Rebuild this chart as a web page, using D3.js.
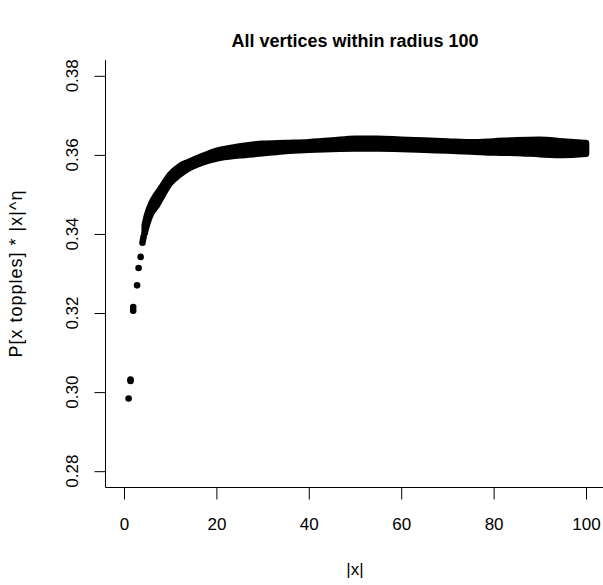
<!DOCTYPE html>
<html>
<head>
<meta charset="utf-8">
<script src="https://cdn.jsdelivr.net/npm/d3@7"></script>
<style>
  body { margin: 0; background: #fff; }
  svg { font-family: "Liberation Sans", Arial, Helvetica, sans-serif; }
</style>
</head>
<body>
<svg id="chart" width="603" height="585"></svg>
<script>
// isolated points near the origin
var ptX = [1.0, 1.414, 1.414, 2.0, 2.0, 2.828, 3.162, 3.606, 4.0, 4.123, 4.243, 4.472];
var ptY = [0.2984, 0.3028, 0.3032, 0.3206, 0.3215, 0.3270, 0.3314, 0.3342, 0.3378, 0.3386, 0.3393, 0.3402];

// dense band of points (lowest and highest centre read per |x|)
var bandX  = [4.5, 5, 6, 7, 8, 10, 12, 14, 17, 20, 25, 30, 35, 40, 45, 50, 55, 60, 65, 70, 75, 80, 85, 90, 95, 100];
var bandLo = [0.3404, 0.3425, 0.3455, 0.3470, 0.3491, 0.3529, 0.3550, 0.3566, 0.3581, 0.3591, 0.3599, 0.3604, 0.3610, 0.3613, 0.3615, 0.3616, 0.3616, 0.3615, 0.3613, 0.3611, 0.3609, 0.3606, 0.3605, 0.3602, 0.3600, 0.3603];
var bandHi = [0.3423, 0.3448, 0.3479, 0.3499, 0.3516, 0.3550, 0.3571, 0.3582, 0.3597, 0.3610, 0.3621, 0.3628, 0.3630, 0.3632, 0.3636, 0.3641, 0.3641, 0.3638, 0.3636, 0.3634, 0.3632, 0.3634, 0.3637, 0.3638, 0.3634, 0.3630];

var xTicks = [0, 20, 40, 60, 80, 100];
var yTicks = [0.28, 0.30, 0.32, 0.34, 0.36, 0.38];

var svg = d3.select("#chart");

var x = d3.scaleLinear().domain([-4, 104]).range([105.5, 604.5]);
var y = d3.scaleLinear().domain([0.276, 0.384]).range([487, 60]);

// points
var band = d3.area()
    .x(function (d, i) { return x(bandX[i]); })
    .y0(function (d, i) { return y(bandLo[i]); })
    .y1(function (d, i) { return y(bandHi[i]); })
    .curve(d3.curveMonotoneX);

svg.append("path")
    .datum(bandX)
    .attr("d", band)
    .attr("fill", "#000")
    .attr("stroke", "#000")
    .attr("stroke-width", 6.6)
    .attr("stroke-linejoin", "round");

svg.selectAll("circle.pt")
    .data(ptX)
    .enter().append("circle")
    .attr("class", "pt")
    .attr("cx", function (d) { return x(d); })
    .attr("cy", function (d, i) { return y(ptY[i]); })
    .attr("r", 3.3)
    .attr("fill", "#000");

// L shaped frame
svg.append("line")
    .attr("x1", 105.5).attr("x2", 603)
    .attr("y1", 487.5).attr("y2", 487.5)
    .attr("stroke", "#000");
svg.append("line")
    .attr("x1", 105.5).attr("x2", 105.5)
    .attr("y1", 60).attr("y2", 487.5)
    .attr("stroke", "#000");

// x axis
var gx = svg.append("g")
    .attr("transform", "translate(0,487.5)")
    .call(d3.axisBottom(x).tickValues(xTicks).tickSize(12).tickPadding(18).tickSizeOuter(0));
gx.select(".domain").remove();
gx.selectAll("text").attr("font-size", 17).attr("fill", "#000").attr("font-family", null);
gx.selectAll("line").attr("stroke", "#000");

// y axis
var gy = svg.append("g")
    .attr("transform", "translate(105.5,0)")
    .call(d3.axisLeft(y).tickValues(yTicks).tickSize(11).tickFormat("").tickSizeOuter(0));
gy.select(".domain").remove();
gy.selectAll("line").attr("stroke", "#000");

svg.selectAll("text.ylab")
    .data(yTicks)
    .enter().append("text")
    .attr("class", "ylab")
    .attr("transform", function (d) { return "translate(78," + y(d) + ") rotate(-90)"; })
    .attr("text-anchor", "middle")
    .attr("font-size", 17)
    .text(function (d) { return d.toFixed(2); });

// titles
svg.append("text")
    .attr("x", 355).attr("y", 47)
    .attr("text-anchor", "middle")
    .attr("font-size", 18)
    .attr("font-weight", "bold")
    .text("All vertices within radius 100");

svg.append("text")
    .attr("x", 355).attr("y", 575)
    .attr("text-anchor", "middle")
    .attr("font-size", 17)
    .text("|x|");

svg.append("text")
    .attr("transform", "translate(22,273.5) rotate(-90)")
    .attr("text-anchor", "middle")
    .attr("font-size", 18)
    .attr("letter-spacing", 1)
    .text("P[x topples] * |x|^η");
</script>
</body>
</html>
